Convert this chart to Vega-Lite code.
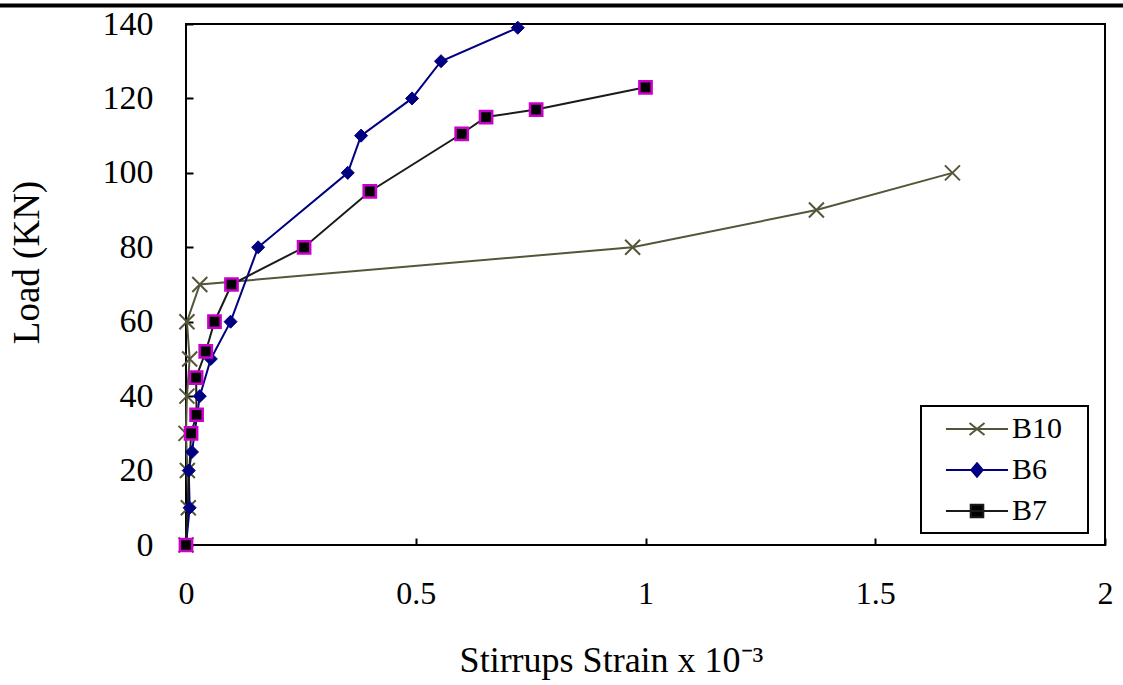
{
  "$schema": "https://vega.github.io/schema/vega-lite/v6.json",
  "autosize": {"type": "none"},
  "width": 919,
  "height": 521,
  "padding": {"left": 186, "top": 24, "right": 18, "bottom": 140},
  "background": "white",
  "config": {
    "font": "Liberation Serif",
    "view": {"stroke": "black", "strokeWidth": 2},
    "axis": {"grid": false, "domain": false, "tickColor": "black", "tickWidth": 2, "labelFont": "Liberation Serif", "labelColor": "black", "titleFont": "Liberation Serif", "titleColor": "black", "titleFontWeight": "normal", "labelFlush": false, "labelOverlap": false}
  },
  "datasets": {
    "strain": [
      {"series": "B10", "x": 0, "y": 0},
      {"series": "B10", "x": 0.005, "y": 10},
      {"series": "B10", "x": 0.003, "y": 20},
      {"series": "B10", "x": 0.0, "y": 30},
      {"series": "B10", "x": 0.002, "y": 40},
      {"series": "B10", "x": 0.008, "y": 50},
      {"series": "B10", "x": 0.002, "y": 60},
      {"series": "B10", "x": 0.03, "y": 70},
      {"series": "B10", "x": 0.972, "y": 80},
      {"series": "B10", "x": 1.372, "y": 90},
      {"series": "B10", "x": 1.668, "y": 100},
      {"series": "B6", "x": 0, "y": 0},
      {"series": "B6", "x": 0.008, "y": 10},
      {"series": "B6", "x": 0.006, "y": 20},
      {"series": "B6", "x": 0.013, "y": 25},
      {"series": "B6", "x": 0.03, "y": 40},
      {"series": "B6", "x": 0.054, "y": 50},
      {"series": "B6", "x": 0.097, "y": 60},
      {"series": "B6", "x": 0.157, "y": 80},
      {"series": "B6", "x": 0.352, "y": 100},
      {"series": "B6", "x": 0.381, "y": 110},
      {"series": "B6", "x": 0.492, "y": 120},
      {"series": "B6", "x": 0.555, "y": 130},
      {"series": "B6", "x": 0.722, "y": 139},
      {"series": "B7", "x": 0, "y": 0},
      {"series": "B7", "x": 0.011, "y": 30},
      {"series": "B7", "x": 0.023, "y": 35},
      {"series": "B7", "x": 0.022, "y": 45},
      {"series": "B7", "x": 0.043, "y": 52},
      {"series": "B7", "x": 0.062, "y": 60},
      {"series": "B7", "x": 0.099, "y": 70},
      {"series": "B7", "x": 0.257, "y": 80},
      {"series": "B7", "x": 0.4, "y": 95},
      {"series": "B7", "x": 0.6, "y": 110.5},
      {"series": "B7", "x": 0.653, "y": 115},
      {"series": "B7", "x": 0.762, "y": 117},
      {"series": "B7", "x": 1.0, "y": 123}
    ],
    "border": [
      {"x": -0.405, "x2": 2.04, "y": 145}
    ]
  },
  "layer": [
    {
      "data": {"name": "border"},
      "mark": {"type": "rule", "color": "black", "strokeWidth": 4, "clip": false},
      "encoding": {
        "x": {"field": "x", "type": "quantitative", "scale": {"domain": [0, 2], "nice": false}},
        "x2": {"field": "x2"},
        "y": {"field": "y", "type": "quantitative", "scale": {"domain": [0, 140], "nice": false}}
      }
    },
    {
      "data": {"name": "strain"},
      "mark": {"type": "line", "strokeWidth": 2},
      "encoding": {
        "x": {"field": "x", "type": "quantitative",
          "scale": {"domain": [0, 2], "nice": false},
          "axis": {"values": [0, 0.5, 1, 1.5, 2], "format": "~g", "tickSize": -7, "labelPadding": 40, "labelFontSize": 32, "labelBaseline": "top",
            "title": "Stirrups Strain x 10⁻³", "titleFontSize": 36, "titleX": 425, "titleY": 126, "titleBaseline": "alphabetic", "titleAnchor": "middle"}},
        "y": {"field": "y", "type": "quantitative",
          "scale": {"domain": [0, 140], "nice": false},
          "axis": {"values": [0, 20, 40, 60, 80, 100, 120, 140], "tickSize": -7, "labelPadding": 40, "labelFontSize": 34,
            "title": "Load (KN)", "titleFontSize": 37, "titleAngle": -90, "titleX": -159, "titleY": 238, "titleAlign": "center", "titleBaseline": "middle"}},
        "order": {"field": "y", "type": "quantitative"},
        "color": {"field": "series", "type": "nominal",
          "scale": {"domain": ["B10", "B6", "B7"], "range": ["#55553a", "#000080", "#1a1a1a"]},
          "legend": {
            "title": "B", "titleOrient": "right", "titleColor": "rgba(0,0,0,0)", "titleFontSize": 28, "titlePadding": 0, "titleFont": "Liberation Serif",
            "orient": "none", "legendX": 735, "legendY": 382,
            "symbolSize": 900, "symbolOffset": 33, "labelFontSize": 30, "labelFont": "Liberation Serif", "labelColor": "black",
            "labelOffset": 19, "rowPadding": 10, "padding": 7, "strokeColor": "black",
            "encode": {
              "legend": {"update": {"strokeWidth": {"value": 2}}},
              "symbols": {"update": {
                "shape": {"signal": "datum.value === 'B10' ? 'M-2.07,0L2.07,0M-0.5,-0.4L0.5,0.4M-0.5,0.4L0.5,-0.4' : datum.value === 'B6' ? 'M-2.07,0L2.07,0M0,-0.45L0.38,0L0,0.45L-0.38,0Z' : 'M-2.07,0L2.07,0M-0.42,-0.42L0.42,-0.42L0.42,0.42L-0.42,0.42Z'"},
                "fill": {"signal": "datum.value === 'B10' ? 'transparent' : datum.value === 'B6' ? '#000080' : '#000000'"},
                "stroke": {"signal": "datum.value === 'B10' ? '#55553a' : datum.value === 'B6' ? '#000080' : '#1a1a1a'"},
                "strokeWidth": {"value": 2},
                "opacity": {"value": 1}
              }}
            }
          }}
      }
    },
    {
      "data": {"name": "strain"},
      "transform": [{"filter": "datum.series === 'B10'"}],
      "mark": {"type": "point", "shape": "M-1,-1L1,1M-1,1L1,-1", "size": 225, "filled": false, "stroke": "#55553a", "strokeWidth": 2, "opacity": 1},
      "encoding": {
        "x": {"field": "x", "type": "quantitative"},
        "y": {"field": "y", "type": "quantitative"}
      }
    },
    {
      "data": {"name": "strain"},
      "transform": [{"filter": "datum.series === 'B6'"}],
      "mark": {"type": "point", "shape": "diamond", "size": 170, "filled": true, "fill": "#000080", "stroke": "#000080", "strokeWidth": 1, "opacity": 1},
      "encoding": {
        "x": {"field": "x", "type": "quantitative"},
        "y": {"field": "y", "type": "quantitative"}
      }
    },
    {
      "data": {"name": "strain"},
      "transform": [{"filter": "datum.series === 'B7'"}],
      "mark": {"type": "point", "shape": "square", "size": 150, "filled": true, "fill": "#000000", "stroke": "#cc00cc", "strokeWidth": 2.5, "opacity": 1},
      "encoding": {
        "x": {"field": "x", "type": "quantitative"},
        "y": {"field": "y", "type": "quantitative"}
      }
    }
  ]
}
